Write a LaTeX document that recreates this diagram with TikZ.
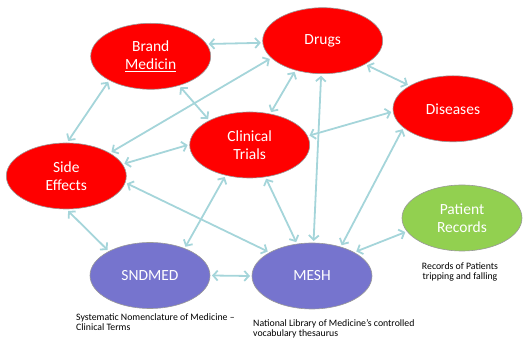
\documentclass[tikz,border=0pt]{standalone}
\usepackage{fontspec}
\setmainfont{Carlito}
\usetikzlibrary{shapes.geometric,arrows.meta}
\definecolor{arr}{RGB}{165,213,218}
\definecolor{rd}{RGB}{255,0,0}
\definecolor{pu}{RGB}{118,116,206}
\definecolor{gr}{RGB}{146,208,80}
\definecolor{edge}{RGB}{110,110,110}
\begin{document}
\begin{tikzpicture}[x=1pt,y=-1pt,
  bub/.style={ellipse,minimum width=120pt,minimum height=66pt,inner sep=0pt,outer sep=2pt,
    draw=edge!70,line width=0.6pt,text=white,align=center,
    font=\fontsize{15.5}{18.5}\selectfont},
  redb/.style={bub,fill=rd},
  pub/.style={bub,fill=pu},
  grb/.style={bub,fill=gr},
  link/.style={draw=arr,line width=1.8pt,{Straight Barb[length=4.5pt,width=10pt]}-{Straight Barb[length=4.5pt,width=10pt]}},
  captxt/.style={font=\fontsize{9.8}{10.8}\selectfont,text=black,inner sep=0pt}]
\useasboundingbox (0,0) rectangle (523,347);
\node[redb] (brand) at (150.7,56.3) {Brand\\\underline{Medicin}};
\node[redb] (drugs) at (322.7,40.7) {Drugs};
\node[redb] (dis) at (453,108.8) {Diseases};
\node[redb] (ct) at (249.7,145) {Clinical\\Trials};
\node[redb] (side) at (66.3,176) {Side\\Effects};
\node[grb] (pat) at (462,218) {Patient\\Records};
\node[pub] (snd) at (150,275.5) {SNDMED};
\node[pub] (mesh) at (312,276) {MESH};
\node[captxt,anchor=north west,align=left] (c1) at (76,313) {Systematic Nomenclature of Medicine --\\Clinical Terms};
\node[captxt,anchor=north west,align=left] (c2) at (253,319) {National Library of Medicine's controlled\\vocabulary thesaurus};
\node[captxt,anchor=north,align=center] (c3) at (460,262) {Records of Patients\\tripping and falling};
\path[link] (brand.12) -- (drugs.182);
\path[link] (brand.211) -- (side.87);
\path[link] (brand.314) -- (ct.148);
\path[link] (drugs.199) -- (side.28);
\path[link] (drugs.228) -- (ct.57);
\path[link] (drugs.331) -- (dis.152);
\path[link] (drugs) -- (mesh);
\path[link] (dis.183) -- (ct.9);
\path[link] (dis.202) -- (mesh.46);
\path[link] (side.12) -- (ct.180);
\path[link] (side.353) -- (mesh.151);
\path[link] (side.273) -- (snd.149);
\path[link] (ct.232) -- (snd.39);
\path[link] (ct.296) -- (mesh.115);
\path[link] (snd.0) -- (mesh.180);
\path[link] (mesh.29) -- (pat.194);
\end{tikzpicture}
\end{document}
